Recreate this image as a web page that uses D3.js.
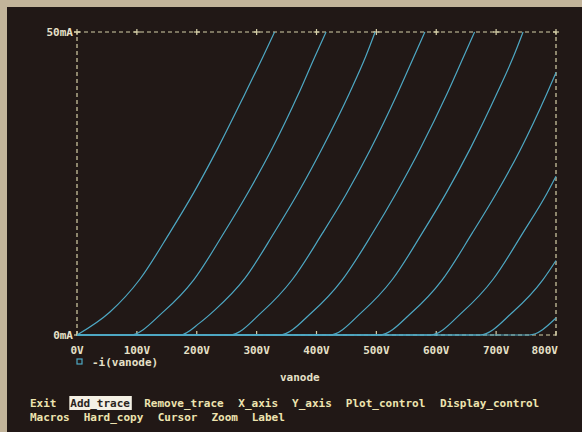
<!DOCTYPE html>
<html>
<head>
<meta charset="utf-8">
<script src="https://cdn.jsdelivr.net/npm/d3@7"></script>
<style>
  body { margin: 0; background: #c2b49a; }
  text { font-family: "DejaVu Sans Mono", "Liberation Mono", monospace; font-weight: bold; }
</style>
</head>
<body>
<svg id="chart"></svg>
<script>
// anode voltage (V), anode current (mA), one array per grid step
const trace1 = [[0,0],[55,3.8],[105,9.2],[155,16.9],[195,23.5],[235,30.8],[280,39.7],[311,46.0],[330,50]];
const trace2 = [[0,0],[88,0],[145,3.9],[195,9.1],[245,16.8],[285,23.4],[325,30.6],[370,39.8],[398,46.1],[416,50]];
const trace3 = [[0,0],[172,0],[205,2.0],[230,4.1],[280,9.3],[330,17],[370,23.6],[410,30.9],[455,39.9],[482,45.9],[498,50]];
const trace4 = [[0,0],[255,0],[310,3.9],[360,9.2],[410,16.8],[450,23.3],[490,30.6],[535,39.8],[563,46.0],[581,50]];
const trace5 = [[0,0],[338,0],[393,3.8],[443,9.1],[493,16.7],[533,23.4],[573,30.7],[618,39.8],[646,46.0],[664,50]];
const trace6 = [[0,0],[422,0],[477,3.9],[527,9.2],[577,16.9],[617,23.5],[657,30.8],[702,40.0],[730,46.2],[745,50]];
const trace7 = [[0,0],[505,0],[560,3.8],[610,9.1],[660,16.8],[700,23.3],[740,30.5],[785,39.9],[800,43.3]];
const trace8 = [[0,0],[590,0],[645,3.9],[695,9.2],[745,16.9],[785,23.4],[800,26.2]];
const trace9 = [[0,0],[673,0],[728,3.8],[778,9.1],[800,12.3]];
const trace10 = [[0,0],[755,0],[800,2.8]];
const traces = [trace1, trace2, trace3, trace4, trace5, trace6, trace7, trace8, trace9, trace10];

const xTicks = [0, 100, 200, 300, 400, 500, 600, 700, 800];
const yTicks = [0, 50];
const menuRow1 = [['Exit',0],['Add_trace',6],['Remove_trace',17],['X_axis',31],['Y_axis',39],['Plot_control',47],['Display_control',61]];
const menuRow2 = [['Macros',0],['Hard_copy',8],['Cursor',19],['Zoom',27],['Label',33]];

const W = 582, H = 432;
const plot = {left: 77, right: 556, top: 32, bottom: 335};
const traceCol = '#4ea8c4', axisCol = '#d6cfa8', textCol = '#e6e0c8', menuCol = '#eee4b0';

const svg = d3.select('#chart').attr('width', W).attr('height', H);

// photo border + CRT screen
svg.append('rect').attr('width', W).attr('height', H).attr('fill', '#c2b49a');
svg.append('rect').attr('x', 7).attr('y', 7).attr('width', W - 7).attr('height', H - 7)
  .attr('fill', '#211816');

const x = d3.scaleLinear().domain([0, 800]).range([plot.left, plot.right]);
const y = d3.scaleLinear().domain([0, 50]).range([plot.bottom, plot.top]);

// dashed frame
const frame = svg.append('g').attr('stroke', axisCol).attr('stroke-width', 1.2)
  .attr('stroke-dasharray', '4,3').attr('fill', 'none');
frame.append('line').attr('x1', x(0)).attr('x2', x(800)).attr('y1', y(50)).attr('y2', y(50));
frame.append('line').attr('x1', x(0)).attr('x2', x(800)).attr('y1', y(0)).attr('y2', y(0));
frame.append('line').attr('x1', x(0)).attr('x2', x(0)).attr('y1', y(0)).attr('y2', y(50));
frame.append('line').attr('x1', x(800)).attr('x2', x(800)).attr('y1', y(0)).attr('y2', y(50));

// "+" ticks along the top, short upward ticks along the bottom
const ticks = svg.append('g').attr('stroke', axisCol).attr('stroke-width', 1.2);
ticks.selectAll('.tv').data(xTicks).enter().append('line')
  .attr('x1', d => x(d)).attr('x2', d => x(d))
  .attr('y1', y(50) - 3).attr('y2', y(50) + 3);
ticks.selectAll('.th').data(xTicks).enter().append('line')
  .attr('x1', d => x(d) - 3).attr('x2', d => x(d) + 3)
  .attr('y1', y(50)).attr('y2', y(50));
ticks.selectAll('.bt').data(xTicks).enter().append('line')
  .attr('x1', d => x(d)).attr('x2', d => x(d))
  .attr('y1', y(0) - 4).attr('y2', y(0) + 1);
ticks.selectAll('.yt').data(yTicks).enter().append('line')
  .attr('x1', x(0) - 3).attr('x2', x(0) + 3)
  .attr('y1', d => y(d)).attr('y2', d => y(d));

// traces
svg.append('clipPath').attr('id', 'clip').append('rect')
  .attr('x', plot.left).attr('y', plot.top - 1)
  .attr('width', plot.right - plot.left + 1).attr('height', plot.bottom - plot.top + 2);

const line = d3.line().x(d => x(d[0])).y(d => y(d[1])).curve(d3.curveMonotoneX);
svg.append('g').attr('clip-path', 'url(#clip)')
  .selectAll('path').data(traces).enter().append('path')
  .attr('d', line).attr('fill', 'none')
  .attr('stroke', traceCol).attr('stroke-width', 1.2);

// tick labels
svg.selectAll('.xl').data(xTicks).enter().append('text')
  .attr('x', d => d === 800 ? x(d) + 2 : x(d))
  .attr('y', 354)
  .attr('text-anchor', d => d === 800 ? 'end' : 'middle')
  .attr('font-size', 11).attr('fill', textCol)
  .text(d => d + 'V');
svg.selectAll('.yl').data(yTicks).enter().append('text')
  .attr('x', x(0) - 4).attr('y', d => y(d) + 4)
  .attr('text-anchor', 'end')
  .attr('font-size', 11).attr('fill', textCol)
  .text(d => d + 'mA');

// legend + axis title
svg.append('rect').attr('x', 77).attr('y', 359).attr('width', 5).attr('height', 5)
  .attr('fill', 'none').attr('stroke', traceCol).attr('stroke-width', 1.2);
svg.append('text').attr('x', 92).attr('y', 366).attr('font-size', 11).attr('fill', textCol)
  .text('-i(vanode)');
svg.append('text').attr('x', 280).attr('y', 381).attr('font-size', 11).attr('fill', textCol)
  .text('vanode');

// menu bar
const cw = 6.72;
svg.append('rect').attr('x', 30 + 6 * cw - 1).attr('y', 396)
  .attr('width', 9 * cw + 2).attr('height', 14).attr('fill', '#f4f0e4');
svg.selectAll('.m1').data(menuRow1).enter().append('text')
  .attr('x', d => 30 + d[1] * cw).attr('y', 407)
  .attr('font-size', 11)
  .attr('fill', d => d[0] === 'Add_trace' ? '#2a2420' : menuCol)
  .text(d => d[0]);
svg.selectAll('.m2').data(menuRow2).enter().append('text')
  .attr('x', d => 30 + d[1] * cw).attr('y', 421)
  .attr('font-size', 11).attr('fill', menuCol)
  .text(d => d[0]);
</script>
</body>
</html>
